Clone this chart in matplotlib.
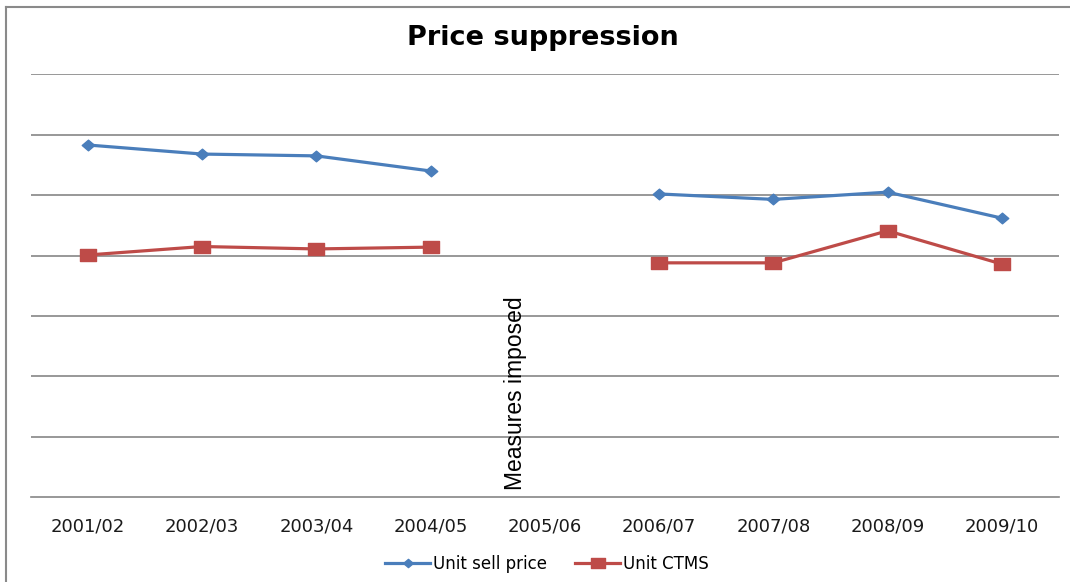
import matplotlib
matplotlib.use("Agg")
import matplotlib.pyplot as plt
import numpy as np
from matplotlib.path import Path
from matplotlib.lines import Line2D

categories = ["2001/02", "2002/03", "2003/04", "2004/05", "2005/06",
              "2006/07", "2007/08", "2008/09", "2009/10"]
unit_sell_price = [5.83, 5.68, 5.65, 5.40, None, 5.02, 4.93, 5.05, 4.62]
unit_ctms = [4.01, 4.15, 4.11, 4.14, None, 3.88, 3.88, 4.41, 3.86]
series_names = ["Unit sell price", "Unit CTMS"]
title = "Price suppression"
annotation = "Measures imposed"

BLUE = "#4A7EBB"
RED = "#BE4B48"
GRID = "#868686"

W, H = 1070, 582
fig = plt.figure(figsize=(W / 100, H / 100), dpi=100)
ax = fig.add_axes([30.8 / W, 1 - 497.3 / H, (1058.9 - 30.8) / W, (497.3 - 74.3) / H])

x = np.arange(len(categories))
usp = np.array([np.nan if v is None else v for v in unit_sell_price], dtype=float)
ctm = np.array([np.nan if v is None else v for v in unit_ctms], dtype=float)

diamond = Path([(-1, 0), (0, 0.85), (1, 0), (0, -0.85), (-1, 0)],
               [Path.MOVETO, Path.LINETO, Path.LINETO, Path.LINETO, Path.CLOSEPOLY])
rect = Path([(-1, -0.75), (1, -0.75), (1, 0.75), (-1, 0.75), (-1, -0.75)],
            [Path.MOVETO, Path.LINETO, Path.LINETO, Path.LINETO, Path.CLOSEPOLY])

ax.plot(x, usp, color=BLUE, lw=2.3, marker=diamond, ms=9, mec=BLUE, mfc=BLUE, zorder=3)
ax.plot(x, ctm, color=RED, lw=2.3, marker=rect, ms=12, mec=RED, mfc=RED, zorder=3)

ax.set_xlim(-0.5, len(categories) - 0.5)
ax.set_ylim(0, 7)
ax.set_yticks(np.arange(1, 8))
ax.yaxis.grid(True, color=GRID, lw=1.2)
ax.set_axisbelow(True)
ax.tick_params(axis='y', left=False, labelleft=False)
ax.tick_params(axis='x', bottom=False, pad=11, colors="#1a1a1a")
ax.set_xticks(x)
ax.set_xticklabels(categories, fontsize=13, family="DejaVu Sans")
for s in ["top", "right", "left"]:
    ax.spines[s].set_visible(False)
ax.spines["bottom"].set_color(GRID)
ax.spines["bottom"].set_linewidth(1.2)

ax.text(3.74, 1.73, annotation, rotation=90, ha="center", va="center",
        fontsize=16.5, family="Liberation Sans", color="black", zorder=4)

fig.text(543 / W, 1 - 38 / H, title, ha="center", va="center",
         fontsize=19.5, fontweight="bold", family="DejaVu Sans")

handles = [Line2D([], [], color=BLUE, lw=2.3, marker=diamond, ms=7, mfc=BLUE, mec=BLUE),
           Line2D([], [], color=RED, lw=2.3, marker=rect, ms=10, mfc=RED, mec=RED)]
fig.legend(handles, series_names, loc="center", bbox_to_anchor=(547 / W, 1 - 564 / H),
           ncol=2, frameon=False, prop={"family": "DejaVu Sans", "size": 12},
           handlelength=2.7, handletextpad=0.18, columnspacing=1.68)

# chart border (left and top visible)
fig.add_artist(Line2D([6 / W, 6 / W], [0, 1 - 7 / H], color="#8a8a8a", lw=1.5,
                      transform=fig.transFigure))
fig.add_artist(Line2D([6 / W, 1], [1 - 7 / H, 1 - 7 / H], color="#8a8a8a", lw=1.5,
                      transform=fig.transFigure))

fig.savefig("out.png", dpi=100, facecolor="white")
